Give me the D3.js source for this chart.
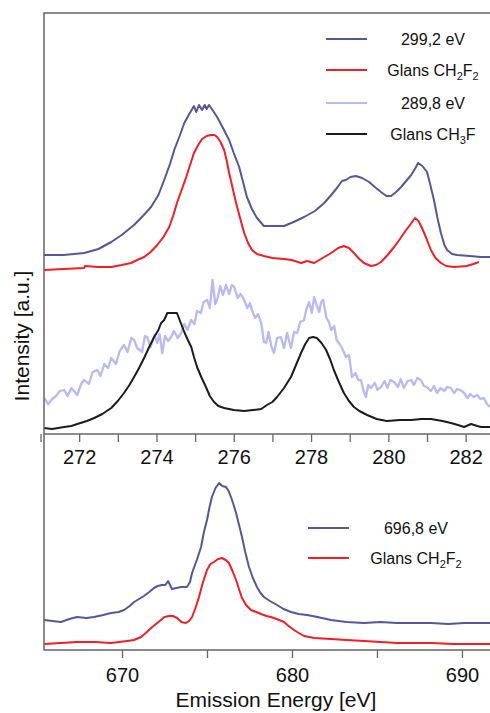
<!DOCTYPE html>
<html>
<head>
<meta charset="utf-8">
<script src="https://cdn.jsdelivr.net/npm/d3@7"></script>
<style>
  body { margin: 0; background: #fff; }
  svg { font-family: "Liberation Sans", Arial, sans-serif; }
  .tick line { stroke: #666; stroke-width: 1.3; }
  .tick text { font-size: 20px; fill: #111; }
</style>
</head>
<body>
<script>
// ---- data (emission energy [eV], intensity [a.u.]) ----
var cTop299 = [[271.09,17.9],[271.6,17.9],[272.13,18.1],[272.5,18.5],[272.83,19.2],[273.1,19.9],[273.42,20.9],[273.65,21.8],[273.86,22.7],[274.05,23.9],[274.2,25.4],[274.35,27.0],[274.46,28.4],[274.6,29.8],[274.72,31.1],[274.85,32.0],[274.97,32.8],[275.03,32.2],[275.1,32.9],[275.18,32.4],[275.25,32.9],[275.3,32.5],[275.36,32.9],[275.45,32.4],[275.57,31.7],[275.72,30.6],[275.88,29.4],[276.0,28.1],[276.14,26.7],[276.24,25.2],[276.34,23.7],[276.47,22.5],[276.6,21.6],[276.78,20.8],[277.0,20.8],[277.3,20.8],[277.55,21.2],[277.82,21.7],[278.1,22.3],[278.34,23.1],[278.5,23.8],[278.67,24.6],[278.8,25.3],[278.9,25.4],[279.02,25.7],[279.16,25.8],[279.32,25.6],[279.5,25.2],[279.65,24.7],[279.81,24.2],[279.95,23.8],[280.07,23.8],[280.2,24.2],[280.33,24.7],[280.46,25.3],[280.59,25.9],[280.7,26.6],[280.77,27.1],[280.88,26.8],[281.0,26.2],[281.08,25.0],[281.18,23.4],[281.27,21.6],[281.36,20.1],[281.45,18.9],[281.52,18.4],[281.65,18.0],[281.78,17.9],[282.1,17.8],[282.4,17.7],[282.63,17.7]];

var cTopGlansCH2F2 = [[271.09,16.4],[271.6,16.5],[272.13,16.6],[272.15,16.8],[272.5,16.7],[272.83,16.7],[273.1,16.9],[273.34,17.1],[273.5,17.4],[273.68,17.7],[273.85,18.2],[274.02,18.9],[274.18,19.7],[274.33,20.7],[274.43,21.8],[274.53,23.1],[274.65,24.4],[274.77,25.7],[274.87,26.9],[274.97,28.1],[275.08,28.9],[275.18,29.5],[275.3,29.8],[275.41,29.9],[275.5,29.9],[275.57,29.7],[275.66,29.2],[275.75,28.4],[275.82,27.3],[275.88,26.1],[275.97,24.6],[276.06,23.1],[276.17,21.5],[276.27,20.1],[276.37,19.1],[276.47,18.4],[276.6,18.0],[276.78,17.8],[277.0,17.6],[277.3,17.5],[277.5,17.4],[277.74,17.1],[277.9,17.3],[278.08,17.1],[278.3,17.6],[278.52,18.1],[278.7,18.6],[278.85,18.8],[278.98,18.6],[279.11,18.1],[279.25,17.5],[279.37,17.1],[279.55,16.8],[279.68,16.9],[279.81,17.2],[279.98,17.9],[280.15,18.7],[280.3,19.5],[280.46,20.4],[280.58,21.0],[280.69,21.6],[280.78,21.3],[280.87,20.6],[280.98,19.6],[281.1,18.4],[281.22,17.6],[281.36,17.1],[281.5,16.8],[281.7,16.7],[282.03,16.8],[282.2,17.0],[282.34,17.2]];

var cTop289 = [[271.09,3.6],[271.2,3.0],[271.3,3.5],[271.4,3.8],[271.5,4.3],[271.61,4.4],[271.7,3.8],[271.8,4.6],[271.95,3.9],[272.05,5.0],[272.13,5.4],[272.25,5.0],[272.35,6.2],[272.47,6.4],[272.55,5.8],[272.65,7.0],[272.75,6.6],[272.83,7.6],[272.95,7.0],[273.05,8.3],[273.16,8.9],[273.25,8.2],[273.35,9.6],[273.42,9.4],[273.5,8.6],[273.63,8.2],[273.7,9.8],[273.76,9.7],[273.85,8.7],[273.95,9.9],[274.02,9.1],[274.08,10.0],[274.15,8.1],[274.22,9.8],[274.3,9.3],[274.38,9.7],[274.45,10.3],[274.55,9.6],[274.64,10.1],[274.72,11.0],[274.8,10.4],[274.9,11.4],[274.98,11.0],[275.05,12.3],[275.15,12.1],[275.22,13.2],[275.31,13.4],[275.38,12.6],[275.45,15.4],[275.52,13.0],[275.57,13.4],[275.65,14.8],[275.72,13.9],[275.8,14.9],[275.88,14.0],[275.95,14.9],[276.01,14.7],[276.1,13.6],[276.18,14.0],[276.27,13.4],[276.35,12.6],[276.42,13.1],[276.47,12.4],[276.55,11.6],[276.63,12.0],[276.71,11.1],[276.78,9.2],[276.84,9.1],[276.9,10.2],[276.97,8.8],[277.04,8.1],[277.12,9.6],[277.22,9.7],[277.3,8.6],[277.38,10.1],[277.48,8.6],[277.56,10.2],[277.64,10.1],[277.72,11.2],[277.82,11.4],[277.88,12.5],[277.95,13.2],[278.02,12.1],[278.08,13.7],[278.15,12.8],[278.21,12.2],[278.26,13.2],[278.31,13.4],[278.4,11.6],[278.46,11.2],[278.52,10.4],[278.6,10.8],[278.66,9.4],[278.72,9.1],[278.8,8.6],[278.9,7.7],[278.98,7.9],[279.06,5.7],[279.15,6.1],[279.22,5.4],[279.29,5.4],[279.36,4.3],[279.42,3.7],[279.48,4.9],[279.55,4.6],[279.65,5.1],[279.72,4.4],[279.81,4.7],[279.9,5.3],[279.98,4.6],[280.05,5.4],[280.15,5.2],[280.25,4.7],[280.32,5.5],[280.4,4.6],[280.5,5.3],[280.59,5.4],[280.66,4.9],[280.75,5.6],[280.84,5.4],[280.92,4.8],[281.0,4.7],[281.1,4.3],[281.18,4.8],[281.26,4.1],[281.35,4.6],[281.45,4.3],[281.52,4.7],[281.62,4.6],[281.7,4.1],[281.78,4.5],[281.86,4.4],[281.96,4.1],[282.05,3.6],[282.12,4.0],[282.21,3.7],[282.3,3.9],[282.38,3.5],[282.47,3.6],[282.55,3.0],[282.63,2.7]];

var cTopGlansCH3F = [[271.09,0.6],[271.3,0.5],[271.61,0.7],[271.8,0.8],[271.95,1.0],[272.2,1.3],[272.39,1.6],[272.6,2.0],[272.83,2.6],[273.0,3.3],[273.16,4.1],[273.3,4.9],[273.42,5.7],[273.55,6.6],[273.68,7.6],[273.8,8.6],[273.94,9.7],[274.05,10.4],[274.12,11.1],[274.2,11.4],[274.28,12.1],[274.4,12.1],[274.53,12.1],[274.62,11.2],[274.72,10.2],[274.8,9.5],[274.9,8.7],[274.97,7.7],[275.05,6.7],[275.17,5.6],[275.28,4.7],[275.38,3.8],[275.49,3.2],[275.6,2.8],[275.75,2.6],[276.0,2.4],[276.27,2.3],[276.5,2.4],[276.71,2.5],[276.86,2.9],[277.0,3.2],[277.12,3.7],[277.3,4.6],[277.48,5.7],[277.6,6.8],[277.74,8.1],[277.85,9.0],[277.95,9.6],[278.05,9.7],[278.15,9.6],[278.27,9.1],[278.39,8.4],[278.5,7.4],[278.59,6.4],[278.72,5.2],[278.85,4.1],[278.98,3.3],[279.11,2.7],[279.25,2.3],[279.45,1.9],[279.7,1.5],[279.96,1.3],[280.3,1.4],[280.59,1.4],[280.85,1.5],[281.1,1.5],[281.4,1.3],[281.62,1.1],[281.8,0.9],[281.96,0.7],[282.14,1.0],[282.3,0.8],[282.4,0.7],[282.63,0.7]];

var cBot696 = [[665.41,3.0],[665.9,2.9],[666.41,2.8],[666.9,3.1],[667.35,3.3],[667.9,3.2],[668.35,3.3],[668.9,3.5],[669.35,3.7],[669.8,3.8],[670.12,4.0],[670.45,4.4],[670.71,4.8],[671.0,5.1],[671.29,5.4],[671.6,5.8],[671.88,6.2],[672.1,6.4],[672.35,6.5],[672.55,6.5],[672.71,6.9],[672.94,6.1],[673.2,6.2],[673.47,6.3],[673.82,6.3],[674.0,6.8],[674.12,7.7],[674.4,9.0],[674.65,10.3],[674.82,11.8],[675.0,13.0],[675.15,14.3],[675.29,15.3],[675.5,16.2],[675.71,16.7],[675.9,16.4],[676.12,16.3],[676.27,15.9],[676.41,15.3],[676.55,14.6],[676.71,13.7],[676.9,12.4],[677.06,11.3],[677.25,9.8],[677.47,8.3],[677.7,7.2],[677.94,6.3],[678.15,5.7],[678.35,5.3],[678.7,4.9],[679.12,4.5],[679.5,4.1],[679.94,3.8],[680.4,3.6],[680.88,3.5],[681.5,3.3],[682.29,3.0],[683.2,2.8],[684.24,2.7],[685.2,2.8],[686.18,2.7],[687.2,2.7],[688.18,2.7],[689.2,2.6],[690.12,2.7],[691.65,2.7]];

var cBotGlansCH2F2 = [[665.41,0.6],[666.4,0.7],[667.35,0.8],[668.4,0.8],[669.35,0.7],[670.29,0.9],[670.7,1.0],[671.12,1.3],[671.4,1.7],[671.71,2.2],[672.0,2.6],[672.29,3.0],[672.5,3.3],[672.76,3.4],[673.0,3.4],[673.24,3.2],[673.5,2.8],[673.76,2.7],[673.95,2.9],[674.12,3.3],[674.3,4.1],[674.53,5.3],[674.75,6.7],[675.0,8.0],[675.2,8.6],[675.41,8.8],[675.65,9.1],[675.88,9.2],[676.1,9.0],[676.29,8.7],[676.5,7.9],[676.71,7.0],[676.9,6.0],[677.06,5.2],[677.3,4.5],[677.59,4.0],[677.9,3.8],[678.18,3.6],[678.5,3.4],[678.76,3.3],[679.1,3.1],[679.53,2.8],[679.8,2.4],[680.12,2.0],[680.4,1.7],[680.71,1.4],[681.3,1.2],[682.29,1.1],[683.2,1.0],[684.24,0.9],[685.2,0.8],[686.18,0.7],[687.2,0.7],[688.18,0.7],[689.5,0.6],[691.65,0.6]];

var topTicks = d3.range(271, 283);
var botTicks = [670, 675, 680, 685, 690];

var colBlue = "#56569a", colRed = "#f51d24", colLav = "#b9b9f3", colBlack = "#1c1c1c";

var width = 490, height = 713;
var left = 44, right = 490, topY = 13, midY = 434, botY = 650;

var svg = d3.select("body").append("svg")
  .attr("width", width)
  .attr("height", height);

var xTop = d3.scaleLinear().domain([271.09, 282.63]).range([left, right]);
var yTop = d3.scaleLinear().domain([0, 42.1]).range([midY, topY]);
var xBot = d3.scaleLinear().domain([665.41, 691.65]).range([left, right]);
var yBot = d3.scaleLinear().domain([0, 21.6]).range([botY, midY]);

svg.append("clipPath").attr("id", "clipTop").append("rect")
  .attr("x", left).attr("y", topY).attr("width", right - left).attr("height", midY - topY);
svg.append("clipPath").attr("id", "clipBot").append("rect")
  .attr("x", left).attr("y", midY).attr("width", right - left).attr("height", botY - midY);

function drawLine(data, x, y, color, w, clip) {
  var line = d3.line().x(d => x(d[0])).y(d => y(d[1]));
  svg.append("path")
    .datum(data)
    .attr("d", line)
    .attr("fill", "none")
    .attr("stroke", color)
    .attr("stroke-width", w)
    .attr("stroke-linejoin", "round")
    .attr("clip-path", "url(#" + clip + ")");
}

drawLine(cTop289, xTop, yTop, colLav, 2.3, "clipTop");
drawLine(cTopGlansCH3F, xTop, yTop, colBlack, 2, "clipTop");
drawLine(cTop299, xTop, yTop, colBlue, 2, "clipTop");
drawLine(cTopGlansCH2F2, xTop, yTop, colRed, 2, "clipTop");
drawLine(cBot696, xBot, yBot, colBlue, 2, "clipBot");
drawLine(cBotGlansCH2F2, xBot, yBot, colRed, 2, "clipBot");

// axes
var axTop = svg.append("g")
  .attr("transform", "translate(0," + midY + ")")
  .call(d3.axisBottom(xTop).tickValues(topTicks).tickSize(8).tickPadding(8)
    .tickFormat(d => d % 2 === 0 ? d : ""));
var axBot = svg.append("g")
  .attr("transform", "translate(0," + botY + ")")
  .call(d3.axisBottom(xBot).tickValues(botTicks).tickSize(8).tickPadding(10)
    .tickFormat(d => d % 10 === 0 ? d : ""));
axTop.select(".domain").remove();
axBot.select(".domain").remove();
svg.selectAll(".tick text").attr("font-family", "Liberation Sans, Arial, sans-serif");

// frame
var frame = svg.append("g").attr("stroke", "#666").attr("stroke-width", 1.5).attr("fill", "none");
frame.append("path").attr("d", "M" + right + "," + topY + "H" + left + "V" + botY + "H" + right);
frame.append("line").attr("x1", left).attr("x2", right).attr("y1", midY).attr("y2", midY);

// axis titles
svg.append("text")
  .attr("x", 276).attr("y", 707)
  .attr("text-anchor", "middle")
  .attr("font-size", 21)
  .attr("fill", "#111")
  .text("Emission Energy [eV]");
svg.append("text")
  .attr("transform", "translate(29,336) rotate(-90)")
  .attr("text-anchor", "middle")
  .attr("font-size", 21)
  .attr("fill", "#111")
  .text("Intensity [a.u.]");

// legends
function legendLabel(g, x, y, parts) {
  var t = g.append("text").attr("x", x).attr("y", y)
    .attr("text-anchor", "middle").attr("font-size", 16).attr("fill", "#111");
  parts.forEach(function(p) {
    var s = t.append("tspan").text(p[0]);
    if (p[1]) s.attr("font-size", 11).attr("dy", 4);
    else if (p[2]) s.attr("dy", -4);
  });
}

var topLegend = [
  { color: colBlue, parts: [["299,2 eV"]] },
  { color: colRed, parts: [["Glans CH"], ["2", true], ["F", false, true], ["2", true]] },
  { color: colLav, parts: [["289,8 eV"]] },
  { color: colBlack, parts: [["Glans CH"], ["3", true], ["F", false, true]] }
];
var topRows = [39, 70, 103, 134];
var lg = svg.append("g");
topLegend.forEach(function(d, i) {
  lg.append("line").attr("x1", 326).attr("x2", 367).attr("y1", topRows[i]).attr("y2", topRows[i])
    .attr("stroke", d.color).attr("stroke-width", 2.2);
  legendLabel(lg, 433, topRows[i] + 6, d.parts);
});

var botLegend = [
  { color: colBlue, parts: [["696,8 eV"]] },
  { color: colRed, parts: [["Glans CH"], ["2", true], ["F", false, true], ["2", true]] }
];
var botRows = [528, 558];
botLegend.forEach(function(d, i) {
  lg.append("line").attr("x1", 308).attr("x2", 349).attr("y1", botRows[i]).attr("y2", botRows[i])
    .attr("stroke", d.color).attr("stroke-width", 2.2);
  legendLabel(lg, 416, botRows[i] + 6, d.parts);
});
</script>
</body>
</html>
